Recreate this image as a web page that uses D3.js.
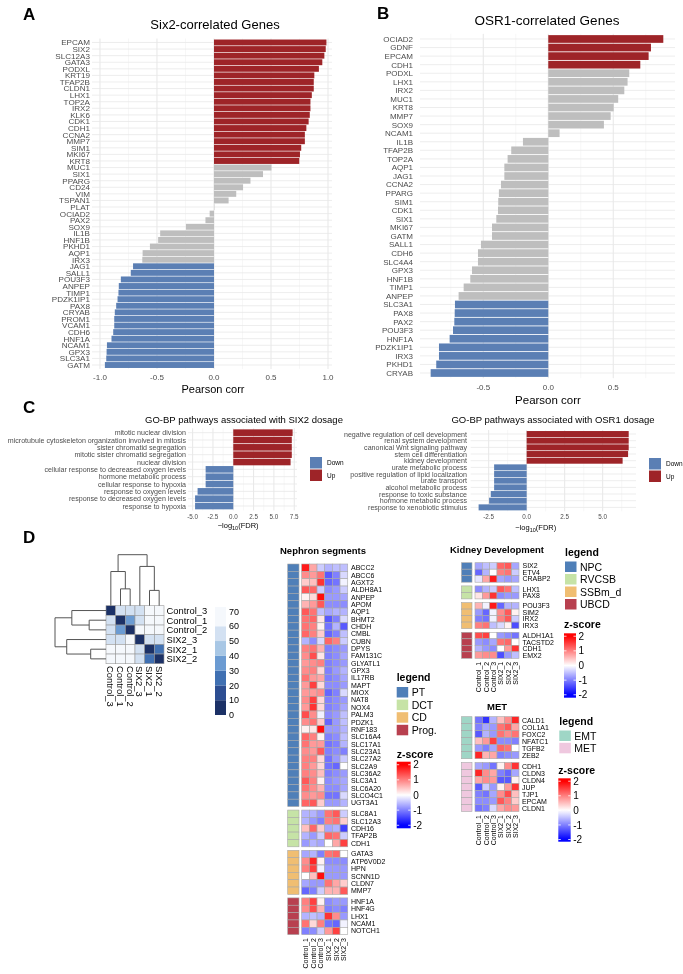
<!DOCTYPE html>
<html><head><meta charset="utf-8">
<script src="https://cdn.jsdelivr.net/npm/d3@7"></script>
<style>body{margin:0;background:#fff}svg{display:block;will-change:transform;opacity:0.999}text{font-family:"Liberation Sans",Arial,Helvetica,sans-serif;-webkit-font-smoothing:antialiased}</style>
</head><body><svg id="fig" width="683" height="974"></svg>
<script>
// ---------------- DATA ----------------
const sixGenes = ["EPCAM","SIX2","SLC12A3","GATA3","PODXL","KRT19","TFAP2B","CLDN1","LHX1","TOP2A","IRX2","KLK6","CDK1","CDH1","CCNA2","MMP7","SIM1","MKI67","KRT8","MUC1","SIX1","PPARG","CD24","VIM","TSPAN1","PLAT","OCIAD2","PAX2","SOX9","IL1B","HNF1B","PKHD1","AQP1","IRX3","JAG1","SALL1","POU3F3","ANPEP","TIMP1","PDZK1IP1","PAX8","CRYAB","PROM1","VCAM1","CDH6","HNF1A","NCAM1","GPX3","SLC3A1","GATM"];
const sixCorr = [0.986,0.98,0.968,0.95,0.92,0.88,0.875,0.875,0.858,0.846,0.846,0.84,0.83,0.81,0.797,0.797,0.765,0.754,0.748,0.504,0.43,0.32,0.255,0.195,0.128,0.003,-0.038,-0.075,-0.246,-0.472,-0.49,-0.562,-0.626,-0.629,-0.71,-0.73,-0.817,-0.835,-0.838,-0.846,-0.858,-0.87,-0.875,-0.875,-0.884,-0.899,-0.939,-0.942,-0.945,-0.957];
const osrGenes = ["OCIAD2","GDNF","EPCAM","CDH1","PODXL","LHX1","IRX2","MUC1","KRT8","MMP7","SOX9","NCAM1","IL1B","TFAP2B","TOP2A","AQP1","JAG1","CCNA2","PPARG","SIM1","CDK1","SIX1","MKI67","GATM","SALL1","CDH6","SLC4A4","GPX3","HNF1B","TIMP1","ANPEP","SLC3A1","PAX8","PAX2","POU3F3","HNF1A","PDZK1IP1","IRX3","PKHD1","CRYAB"];
const osrCorr = [0.885,0.79,0.772,0.708,0.623,0.61,0.585,0.538,0.503,0.48,0.428,0.087,-0.195,-0.285,-0.313,-0.338,-0.338,-0.364,-0.38,-0.385,-0.387,-0.4,-0.433,-0.433,-0.518,-0.541,-0.541,-0.587,-0.6,-0.651,-0.69,-0.718,-0.72,-0.723,-0.733,-0.759,-0.841,-0.841,-0.862,-0.905];
const corrTicksA = [-1,-0.5,0,0.5,1];
const corrTicksB = [-0.5,0,0.5];

const goSixTerms = ["mitotic nuclear division","microtubule cytoskeleton organization involved in mitosis","sister chromatid segregation","mitotic sister chromatid segregation","nuclear division","cellular response to decreased oxygen levels","hormone metabolic process","cellular response to hypoxia","response to oxygen levels","response to decreased oxygen levels","response to hypoxia"];
const goSixVals = [7.3,7.2,7.2,7.2,7.05,-3.4,-3.4,-3.4,-4.39,-4.7,-4.7];
const goOsrTerms = ["negative regulation of cell development","renal system development","canonical Wnt signaling pathway","stem cell differentiation","kidney development","urate metabolic process","positive regulation of lipid localization","urate transport","alcohol metabolic process","response to toxic substance","hormone metabolic process","response to xenobiotic stimulus"];
const goOsrVals = [6.71,6.71,6.71,6.67,6.31,-2.14,-2.14,-2.14,-2.14,-2.36,-2.47,-3.16];
const goTicksL = [-5,-2.5,0,2.5,5,7.5];
const goTicksR = [-2.5,0,2.5,5];

const corrSamples = ["Control_3","Control_1","Control_2","SIX2_3","SIX2_1","SIX2_2"];
const corrDist = [
 [0,55,55,53,66,66],
 [55,0,33,55,66,66],
 [55,33,0,64,68,68],
 [53,55,64,0,55,55],
 [66,66,68,55,0,22],
 [66,66,68,55,22,0]];
const distTicks = [0,10,20,30,40,50,60,70];
const dendro = {h:100, children:[{h:67, children:[{leaf:"Control_3"},{h:33, children:[{leaf:"Control_1"},{leaf:"Control_2"}]}]},{h:77, children:[{leaf:"SIX2_3"},{h:30, children:[{leaf:"SIX2_1"},{leaf:"SIX2_2"}]}]}]};

const hmCols = ["Control_1","Control_2","Control_3","SIX2_1","SIX2_2","SIX2_3"];
const zTicks = [2,1,0,-1,-2];

const ptGenes = ["ABCC2","ABCC6","AGXT2","ALDH8A1","ANPEP","APOM","AQP1","BHMT2","CHDH","CMBL","CUBN","DPYS","FAM131C","GLYATL1","GPX3","IL17RB","MAPT","MIOX","NAT8","NOX4","PALM3","PDZK1","RNF183","SLC16A4","SLC17A1","SLC23A1","SLC27A2","SLC2A9","SLC36A2","SLC3A1","SLC6A20","SLCO4C1","UGT3A1"];
const ptZ = [
 [1.8,0.7,-0.4,-0.6,-0.5,-0.5],[0.9,0.8,1.1,-1.3,-1.0,-0.3],[0.4,0.5,1.6,-1.2,-1.1,-0.1],[1.3,1.2,-0.4,-0.9,-0.8,-0.4],
 [0.1,0.3,1.9,-0.8,-0.8,-0.7],[0.6,0.8,1.3,-0.9,-0.9,-0.9],[1.3,1.1,-0.5,-0.7,-0.6,-0.6],[1.1,1.2,0.2,-1.3,-1.0,-0.3],
 [1.1,1.0,0.1,-1.1,-0.6,-1.3],[1.2,1.0,0.4,-1.2,-1.0,-0.5],[-0.6,-0.9,-0.3,1.2,1.0,-0.4],[1.0,1.1,0.6,-1.0,-0.9,-0.8],
 [0.9,1.4,0.2,-1.0,-0.9,-0.7],[0.8,0.9,1.0,-1.0,-0.9,-0.8],[0.9,1.0,0.3,-1.0,-0.8,-0.6],[1.1,0.8,0.7,-1.0,-0.9,-0.7],
 [0.8,1.5,0.3,-0.9,-0.9,-0.8],[0.8,0.8,0.9,-1.2,-1.0,-0.3],[0.9,1.5,0.3,-1.0,-0.9,-0.8],[0.8,1.6,0.3,-1.0,-0.9,-0.7],
 [1.4,0.9,-0.1,-0.9,-0.8,-0.5],[0.9,1.1,0.4,-1.2,-0.8,-0.5],[0.1,0.2,1.9,-0.8,-0.8,-0.6],[1.2,1.0,0.1,-1.0,-0.9,-0.5],
 [1.1,0.8,0.8,-1.1,-1.0,-0.6],[0.9,0.8,1.3,-1.0,-0.9,-1.0],[1.0,1.0,0.3,-1.1,-0.8,-0.4],[1.0,0.8,0.3,-1.1,-1.2,0.0],
 [1.0,0.9,0.5,-1.0,-0.9,-0.8],[1.3,1.0,0.1,-0.9,-0.8,-0.7],[1.1,0.9,0.6,-0.9,-0.9,-0.7],[0.9,0.8,0.9,-1.1,-1.1,-0.3],
 [1.2,1.3,0.4,-0.8,-0.8,-0.6]];
const dctGenes = ["SLC8A1","SLC12A3","CDH16","TFAP2B","CDH1"];
const dctZ = [[-0.6,-0.6,-0.8,1.1,1.3,-0.4],[-0.6,-0.8,-1.0,1.0,1.1,0.4],[0.5,1.2,0.4,-0.7,-0.6,-1.5],[-0.6,-0.8,-0.4,1.2,1.1,-0.4],[-0.8,-0.6,-0.7,0.0,0.7,1.5]];
const cdGenes = ["GATA3","ATP6V0D2","HPN","SCNN1D","CLDN7","MMP7"];
const cdZ = [[-0.7,-0.6,-1.0,1.1,1.2,0.0],[0.9,1.7,0.1,-0.9,-0.9,-0.9],[1.0,1.5,-0.1,-0.8,-0.8,-0.8],[0.0,0.5,1.9,-0.8,-0.8,-0.8],[-0.7,-0.8,-0.8,1.1,0.7,0.4],[-1.2,-1.0,-0.4,0.6,0.6,1.3]];
const progGenes = ["HNF1A","HNF4G","LHX1","NCAM1","NOTCH1"];
const progZ = [[1.0,1.5,0.1,-0.9,-0.8,-0.8],[0.9,1.4,0.6,-1.0,-0.9,-1.0],[-0.6,-0.5,-0.6,1.6,0.9,-0.8],[1.1,0.3,1.0,-1.1,-1.2,-0.1],[-1.0,-0.9,-0.4,0.8,1.5,0.0]];
const segNames = ["PT","DCT","CD","Prog."];
const segColors = ["#4f7fb8","#c6e3a6","#f0be72","#b8404f"];

const npcGenes = ["SIX2","ETV4","CRABP2"];
const npcZ = [[-0.7,-0.5,-0.4,1.2,1.3,-0.7],[-1.2,-0.6,0.0,1.0,1.1,-0.4],[-0.2,0.7,1.8,-0.7,-0.8,-0.7]];
const rvGenes = ["LHX1","PAX8"];
const rvZ = [[-0.9,-0.6,-0.4,1.3,1.1,-0.5],[0.2,0.8,1.6,-0.9,-0.8,-0.8]];
const ssbGenes = ["POU3F3","SIM2","IRX2","IRX3"];
const ssbZ = [[0.6,-0.1,1.8,-1.2,-0.6,-0.6],[-0.8,-1.2,-0.1,0.9,1.3,0.1],[-1.0,-1.1,-0.1,1.0,1.3,-0.4],[1.0,1.1,-0.5,-0.3,0.1,-1.4]];
const ubcdGenes = ["ALDH1A1","TACSTD2","CDH1","EMX2"];
const ubcdZ = [[1.4,1.5,0.0,-0.8,-0.9,-1.1],[-0.8,-0.9,-0.7,1.1,1.2,0.0],[-0.6,-0.8,-0.9,0.0,0.8,1.6],[0.8,0.9,0.9,-1.4,-0.8,-0.5]];
const kdNames = ["NPC","RVCSB","SSBm_d","UBCD"];
const kdColors = ["#4f7fb8","#c6e3a6","#f0be72","#b8404f"];

const emtGenes = ["CALD1","COL1A1","FOXC2","NFATC1","TGFB2","ZEB2"];
const emtZ = [[-1.1,-1.6,-0.6,0.5,0.9,1.7],[-1.0,-0.7,-0.8,1.1,1.3,0.7],[-1.3,-0.6,-0.8,1.1,0.9,1.1],[0.5,0.8,1.5,-0.9,-0.9,-1.0],[-0.8,-1.0,-0.7,1.2,1.1,0.0],[1.7,0.6,0.7,-1.0,-0.9,-0.8]];
const metGenes = ["CDH1","CLDN3","CLDN4","JUP","TJP1","EPCAM","CLDN1"];
const metZ = [[-0.7,-0.8,-1.1,0.1,0.9,1.6],[1.7,0.9,0.7,-1.0,-1.2,-0.7],[0.7,0.9,0.8,-1.3,-1.3,0.1],[-1.3,-0.4,-0.8,0.1,0.8,1.6],[-1.0,-1.1,-0.7,0.9,1.4,0.5],[-0.9,-0.9,-0.8,1.3,1.0,0.4],[-1.1,-1.0,-0.3,0.7,0.9,0.8]];
const metNames = ["EMT","MET"];
const metColors = ["#9fd6c6","#efc8df"];

// ---------------- DRAW ----------------
const svg = d3.select("#fig");
const defs = svg.append("defs");
const RED = "#9e2428", BLUE = "#5b7fb4", GRAY = "#bebebe";
const fmt1 = d => d.toFixed(1);

function txt(x, y, s, o = {}) {
  return svg.append("text").attr("x", x).attr("y", y).text(s)
    .attr("font-size", o.fs || 10).attr("text-anchor", o.anchor || "start")
    .attr("font-weight", o.bold ? "bold" : "normal").attr("fill", o.fill || "#000");
}

function barPanel(p) {
  const g = svg.append("g");
  const x = d3.scaleLinear().domain(p.xDomain).range(p.xRange);
  const y = d3.scaleBand().domain(p.cats).range(p.yRange).paddingInner(0.1).paddingOuter(0.05);
  const st = y.step();
  const top = p.yRange[0] - 0.1 * st, bot = p.yRange[1] + 0.1 * st;
  g.selectAll(null).data(p.minor).enter().append("line")
    .attr("x1", d => x(d)).attr("x2", d => x(d)).attr("y1", top).attr("y2", bot)
    .attr("stroke", "#f1f1f1").attr("stroke-width", 0.6);
  g.selectAll(null).data(p.ticks).enter().append("line")
    .attr("x1", d => x(d)).attr("x2", d => x(d)).attr("y1", top).attr("y2", bot)
    .attr("stroke", "#e4e4e4").attr("stroke-width", 0.9);
  g.selectAll(null).data(p.cats).enter().append("line")
    .attr("x1", p.xRange[0]).attr("x2", p.xRange[1])
    .attr("y1", d => y(d) + y.bandwidth() / 2).attr("y2", d => y(d) + y.bandwidth() / 2)
    .attr("stroke", "#e8e8e8").attr("stroke-width", 0.8);
  g.selectAll(null).data(p.vals).enter().append("rect")
    .attr("x", d => x(Math.min(0, d))).attr("width", d => Math.abs(x(d) - x(0)))
    .attr("y", (d, i) => y(p.cats[i])).attr("height", y.bandwidth())
    .attr("fill", d => p.color(d));
  g.selectAll(null).data(p.cats).enter().append("text")
    .attr("x", p.labelX).attr("y", d => y(d) + y.bandwidth() / 2).attr("dy", "0.36em")
    .attr("text-anchor", "end").attr("font-size", p.fs).attr("fill", "#4d4d4d").text(d => d);
  g.selectAll(null).data(p.ticks).enter().append("text")
    .attr("x", d => x(d)).attr("y", p.tickY).attr("text-anchor", "middle")
    .attr("font-size", p.tickFs).attr("fill", "#4d4d4d").text(d => fmt1(d));
  return x;
}

// Panel A
txt(23, 20, "A", {fs: 17, bold: true});
txt(215, 29, "Six2-correlated Genes", {fs: 13, anchor: "middle"});
const corrColor = v => v >= 0.7 ? RED : (v <= -0.7 ? BLUE : GRAY);
barPanel({cats: sixGenes, vals: sixCorr, xDomain: [-1.07, 1.035], xRange: [92, 332], yRange: [39.2, 368.3],
  ticks: corrTicksA, minor: [-0.75, -0.25, 0.25, 0.75], labelX: 90, fs: 8.1, tickY: 380, tickFs: 8, color: corrColor});
txt(213, 393, "Pearson corr", {fs: 11, anchor: "middle"});

// Panel B
txt(377, 19, "B", {fs: 17, bold: true});
txt(547, 25, "OSR1-correlated Genes", {fs: 13.5, anchor: "middle"});
barPanel({cats: osrGenes, vals: osrCorr, xDomain: [-0.987, 0.975], xRange: [420, 675], yRange: [34.7, 377.3],
  ticks: corrTicksB, minor: [-0.75, -0.25, 0.25, 0.75], labelX: 413, fs: 8, tickY: 390, tickFs: 8, color: corrColor});
txt(548, 404, "Pearson corr", {fs: 11.5, anchor: "middle"});

// Panel C
txt(23, 413, "C", {fs: 17, bold: true});
const goColor = v => v > 0 ? RED : BLUE;
txt(244, 423, "GO-BP pathways associated with SIX2 dosage", {fs: 9.5, anchor: "middle"});
const xl = barPanel({cats: goSixTerms, vals: goSixVals, xDomain: [-5.57, 7.84], xRange: [188, 297], yRange: [429, 509.7],
  ticks: goTicksL, minor: [-3.75, -1.25, 1.25, 3.75, 6.25], labelX: 186, fs: 7.1, tickY: 518.5, tickFs: 6.3, color: goColor});
txt(553, 423, "GO-BP pathways associated with OSR1 dosage", {fs: 9.5, anchor: "middle"});
const xr = barPanel({cats: goOsrTerms, vals: goOsrVals, xDomain: [-3.68, 7.19], xRange: [470.7, 636], yRange: [430.7, 510.7],
  ticks: goTicksR, minor: [-1.25, 1.25, 3.75, 6.25], labelX: 467, fs: 7.1, tickY: 519, tickFs: 6.3, color: goColor});
function fdrLabel(x, y) {
  const t = svg.append("text").attr("x", x).attr("y", y).attr("text-anchor", "middle").attr("font-size", 7.5);
  t.append("tspan").text("\u2212log");
  t.append("tspan").attr("font-size", 5.5).attr("dy", 2).text("10");
  t.append("tspan").attr("dy", -2).text("(FDR)");
}
fdrLabel(xl(0.6), 528);
fdrLabel(xr(0.6), 530);
function goLegend(x, y) {
  [["Down", BLUE], ["Up", RED]].forEach((d, i) => {
    svg.append("rect").attr("x", x).attr("y", y + i * 12.5).attr("width", 12).attr("height", 11.5).attr("fill", d[1]);
    txt(x + 17, y + i * 12.5 + 8, d[0], {fs: 6.5});
  });
}
goLegend(310, 457);
goLegend(649, 458);

// Panel D
txt(23, 543, "D", {fs: 17, bold: true});

// correlation heatmap
const distColor = d3.scaleThreshold().domain([10, 20, 30, 40, 50, 60])
  .range(["#1c3166", "#2d4e92", "#4070b2", "#6b9bd2", "#a8c7e5", "#d3e1f2", "#f5f8fc"]);
const cx = d3.scaleBand().domain(corrSamples).range([106, 164]);
const cy = d3.scaleBand().domain(corrSamples).range([605.7, 663.7]);
corrDist.forEach((row, i) => row.forEach((v, j) => {
  svg.append("rect").attr("x", cx(corrSamples[j])).attr("y", cy(corrSamples[i]))
    .attr("width", cx.bandwidth()).attr("height", cy.bandwidth())
    .attr("fill", distColor(v)).attr("stroke", "#9a9a9a").attr("stroke-width", 0.6);
}));
svg.selectAll(null).data(corrSamples).enter().append("text")
  .attr("x", 166.5).attr("y", d => cy(d) + cy.bandwidth() / 2).attr("dy", "0.36em")
  .attr("font-size", 9.4).text(d => d);
svg.selectAll(null).data(corrSamples).enter().append("text")
  .attr("transform", d => `translate(${cx(d) + cx.bandwidth() / 2},666) rotate(90)`)
  .attr("dy", "0.36em").attr("font-size", 9.4).text(d => d);
// dendrograms
const hs = d3.scaleLinear().domain([0, 100]).range([0, 51]);
function drawDendro(node, band, base, vertical) {
  if (node.leaf) return {pos: band(node.leaf) + band.bandwidth() / 2, h: 0};
  const kids = node.children.map(c => drawDendro(c, band, base, vertical));
  const line = (a1, b1, a2, b2) => {
    const l = svg.append("line").attr("stroke", "#555").attr("stroke-width", 1);
    if (vertical) l.attr("x1", a1).attr("y1", base - hs(b1)).attr("x2", a2).attr("y2", base - hs(b2));
    else l.attr("y1", a1).attr("x1", base - hs(b1)).attr("y2", a2).attr("x2", base - hs(b2));
  };
  kids.forEach(k => line(k.pos, k.h, k.pos, node.h));
  line(kids[0].pos, node.h, kids[1].pos, node.h);
  return {pos: (kids[0].pos + kids[1].pos) / 2, h: node.h};
}
drawDendro(dendro, cx, 605.7, true);
drawDendro(dendro, cy, 106, false);
// distance colour bar
const dsy = d3.scaleLinear().domain([0, 73]).range([715, 607]);
const distBins = [0, 10, 20, 30, 40, 50, 60, 73];
for (let i = 0; i < distBins.length - 1; i++) {
  svg.append("rect").attr("x", 215).attr("y", dsy(distBins[i + 1])).attr("width", 11)
    .attr("height", dsy(distBins[i]) - dsy(distBins[i + 1])).attr("fill", distColor(distBins[i] + 1));
}
svg.selectAll(null).data(distTicks).enter().append("text")
  .attr("x", 229).attr("y", d => dsy(d)).attr("dy", "0.36em").attr("font-size", 9).text(d => d);

// z-score heatmaps
const zColor = d3.scaleLinear().domain([-2, 0, 2]).range(["#0000ff", "#ffffff", "#ff0000"]).clamp(true);
function zHeatmap(o) {
  const x = d3.scaleBand().domain(hmCols).range([o.cellX, o.cellX + hmCols.length * o.cellW]);
  let yc = o.top;
  o.blocks.forEach((b, bi) => {
    const y = d3.scaleBand().domain(b.genes).range([yc, yc + b.genes.length * o.rowH]);
    b.genes.forEach((gname, i) => {
      svg.append("rect").attr("x", o.annoX).attr("y", y(gname)).attr("width", o.annoW).attr("height", y.bandwidth())
        .attr("fill", o.colors[bi]).attr("stroke", "#a8a8a8").attr("stroke-width", 0.6);
      b.z[i].forEach((v, j) => {
        svg.append("rect").attr("x", x(hmCols[j])).attr("y", y(gname)).attr("width", x.bandwidth()).attr("height", y.bandwidth())
          .attr("fill", zColor(v)).attr("stroke", "#a8a8a8").attr("stroke-width", 0.6);
      });
      svg.append("text").attr("x", o.labelX).attr("y", y(gname) + y.bandwidth() / 2).attr("dy", "0.36em")
        .attr("font-size", o.fs).text(gname);
    });
    yc += b.genes.length * o.rowH + o.gap;
  });
  const ly = yc - o.gap + 3.5;
  svg.selectAll(null).data(hmCols).enter().append("text")
    .attr("transform", d => `translate(${x(d) + x.bandwidth() / 2},${ly}) rotate(-90)`)
    .attr("text-anchor", "end").attr("dy", "0.36em").attr("font-size", o.fs).text(d => d);
}
function catLegend(x, y, names, colors, step, fs) {
  txt(x, y, "legend", {fs: 10.5, bold: true});
  names.forEach((n, i) => {
    svg.append("rect").attr("x", x).attr("y", y + 6 + i * step).attr("width", 11.5).attr("height", 10.5).attr("fill", colors[i]);
    txt(x + 15, y + 6 + i * step + 9, n, {fs: fs});
  });
}
let gid = 0;
function zBar(x0, w, y0, y1, dom, titleY) {
  txt(x0, titleY, "z-score", {fs: 10.5, bold: true});
  const s = d3.scaleLinear().domain(dom).range([y1, y0]);
  const id = "zg" + (gid++);
  const grad = defs.append("linearGradient").attr("id", id).attr("x1", 0).attr("x2", 0).attr("y1", 0).attr("y2", 1);
  d3.range(0, 1.0001, 0.05).forEach(t => {
    grad.append("stop").attr("offset", t).attr("stop-color", zColor(dom[1] - t * (dom[1] - dom[0])));
  });
  svg.append("rect").attr("x", x0).attr("y", y0).attr("width", w).attr("height", y1 - y0).attr("fill", `url(#${id})`);
  zTicks.forEach(v => {
    [[x0, x0 + 2.5], [x0 + w - 2.5, x0 + w]].forEach(seg => {
      svg.append("line").attr("x1", seg[0]).attr("x2", seg[1]).attr("y1", s(v)).attr("y2", s(v))
        .attr("stroke", "#fff").attr("stroke-width", 0.8);
    });
    svg.append("text").attr("x", x0 + w + 2.5).attr("y", s(v)).attr("dy", "0.36em").attr("font-size", 10).text(v);
  });
}

// Nephron segments
txt(280, 554, "Nephron segments", {fs: 9.5, bold: true});
zHeatmap({blocks: [{genes: ptGenes, z: ptZ}, {genes: dctGenes, z: dctZ}, {genes: cdGenes, z: cdZ}, {genes: progGenes, z: progZ}],
  colors: segColors, annoX: 287.7, annoW: 11.3, cellX: 301.7, cellW: 7.67, top: 564, rowH: 7.35, gap: 3.5, labelX: 351, fs: 7});
catLegend(396.7, 681, segNames, segColors, 12.6, 10.5);
zBar(396.7, 14, 761.7, 828.3, [-2.2, 2.2], 757.7);

// Kidney Development
txt(450, 553, "Kidney Development", {fs: 9.5, bold: true});
zHeatmap({blocks: [{genes: npcGenes, z: npcZ}, {genes: rvGenes, z: rvZ}, {genes: ssbGenes, z: ssbZ}, {genes: ubcdGenes, z: ubcdZ}],
  colors: kdColors, annoX: 461.5, annoW: 10.5, cellX: 475, cellW: 7.33, top: 562.7, rowH: 6.5, gap: 3.7, labelX: 522.5, fs: 7});
catLegend(565, 555.5, kdNames, kdColors, 12.5, 10.5);
zBar(564, 12, 633.3, 697.7, [-2.2, 2.2], 628.3);

// MET
txt(497, 710, "MET", {fs: 9.5, bold: true, anchor: "middle"});
zHeatmap({blocks: [{genes: emtGenes, z: emtZ}, {genes: metGenes, z: metZ}],
  colors: metColors, annoX: 461.5, annoW: 10.5, cellX: 475, cellW: 7.33, top: 716.7, rowH: 7.0, gap: 3.8, labelX: 522, fs: 7});
catLegend(559.3, 724.5, metNames, metColors, 12.3, 10.5);
zBar(558.3, 12.4, 778.3, 841.7, [-2.15, 2.2], 774);
</script></body></html>
